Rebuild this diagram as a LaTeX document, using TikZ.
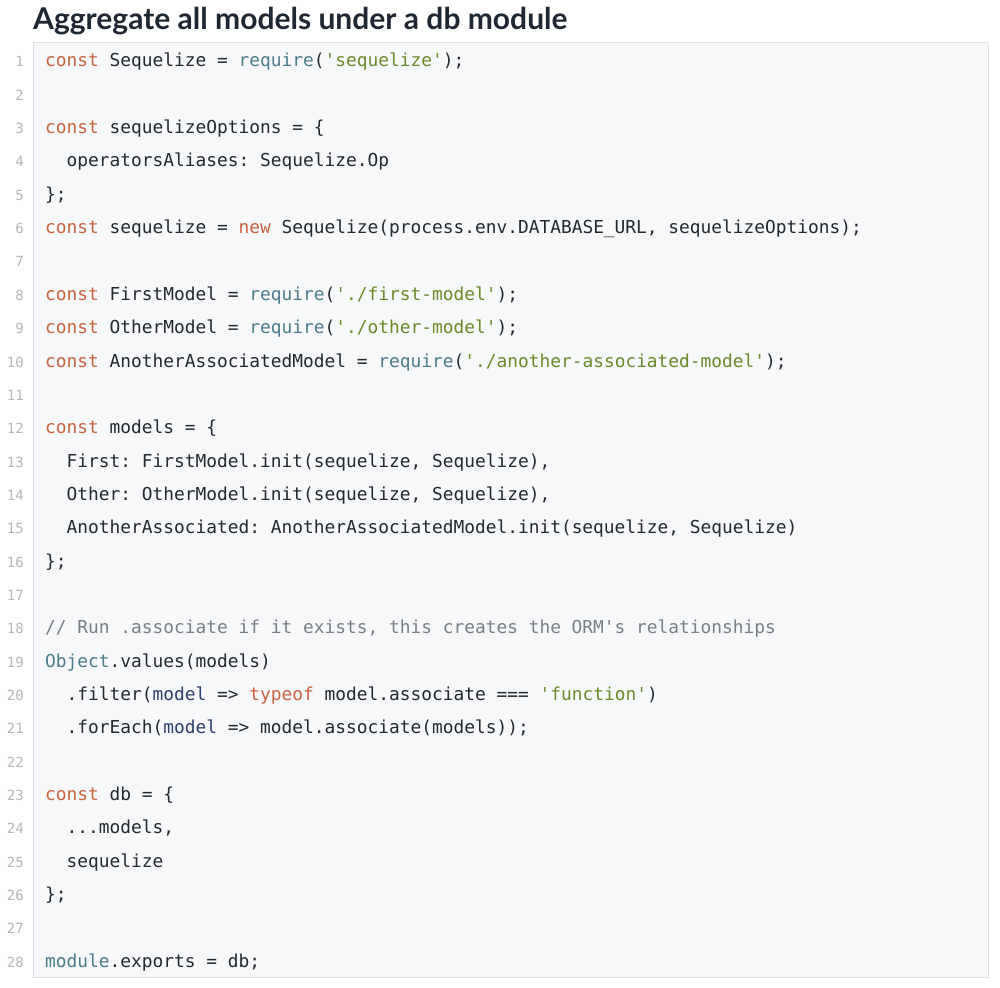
\documentclass[tikz,border=0pt]{standalone}
\usepackage{fontspec}
\setmainfont{Lato}
\setmonofont{DejaVu Sans Mono}
\definecolor{titlec}{HTML}{1F2733}
\definecolor{codec}{HTML}{24292E}
\definecolor{kwc}{HTML}{C9623E}
\definecolor{fnc}{HTML}{4B7C8A}
\definecolor{strc}{HTML}{6A8A2A}
\definecolor{pac}{HTML}{2D3F6B}
\definecolor{cmc}{HTML}{7A7F85}
\definecolor{numc}{HTML}{B4B7BC}
\definecolor{boxc}{HTML}{F7F8FA}
\definecolor{linec}{HTML}{DDE1E8}
\newcommand{\kw}[1]{\textcolor{kwc}{#1}}
\newcommand{\fn}[1]{\textcolor{fnc}{#1}}
\newcommand{\str}[1]{\textcolor{strc}{#1}}
\newcommand{\pa}[1]{\textcolor{pac}{#1}}
\newcommand{\cm}[1]{\textcolor{cmc}{#1}}
\tikzset{
  code/.style={anchor=base west,inner sep=0pt,text=codec,font=\ttfamily\fontsize{17.85}{20}\selectfont},
  num/.style={anchor=base east,inner sep=0pt,text=numc,font=\ttfamily\fontsize{14}{16}\selectfont},
}
\begin{document}
\begin{tikzpicture}[x=1pt,y=-1pt]
		\useasboundingbox[fill=white] (0,0) rectangle (1000,987);
		\node[anchor=base west,inner sep=0pt,text=titlec,font=\bfseries\fontsize{30}{33}\selectfont] (title) at (33,29.5) {Aggregate all models under a db module};
		\draw[linec,fill=boxc] (33,42) rectangle (988,977);

		\foreach \i in {1,...,28}
			\node[num] (n\i) at (24,{67+(\i-1)*33.333}) {\i};

		\node[code] (l1) at (45,67) {\kw{const} Sequelize = \fn{require}(\str{'sequelize'});};
		\node[code] (l3) at (45,133.67) {\kw{const} sequelizeOptions = \{};
		\node[code] (l4) at (66.5,167) {operatorsAliases: Sequelize.Op};
		\node[code] (l5) at (45,200.33) {\};};
		\node[code] (l6) at (45,233.67) {\kw{const} sequelize = \kw{new} Sequelize(process.env.DATABASE\_URL, sequelizeOptions);};
		\node[code] (l8) at (45,300.33) {\kw{const} FirstModel = \fn{require}(\str{'./first-model'});};
		\node[code] (l9) at (45,333.67) {\kw{const} OtherModel = \fn{require}(\str{'./other-model'});};
		\node[code] (l10) at (45,367) {\kw{const} AnotherAssociatedModel = \fn{require}(\str{'./another-associated-model'});};
		\node[code] (l12) at (45,433.67) {\kw{const} models = \{};
		\node[code] (l13) at (66.5,467) {First: FirstModel.init(sequelize, Sequelize),};
		\node[code] (l14) at (66.5,500.33) {Other: OtherModel.init(sequelize, Sequelize),};
		\node[code] (l15) at (66.5,533.67) {AnotherAssociated: AnotherAssociatedModel.init(sequelize, Sequelize)};
		\node[code] (l16) at (45,567) {\};};
		\node[code] (l18) at (45,633.67) {\cm{// Run .associate if it exists, this creates the ORM's relationships}};
		\node[code] (l19) at (45,667) {\fn{Object}.values(models)};
		\node[code] (l20) at (66.5,700.33) {.filter(\pa{model} => \kw{typeof} model.associate === \str{'function'})};
		\node[code] (l21) at (66.5,733.67) {.forEach(\pa{model} => model.associate(models));};
		\node[code] (l23) at (45,800.33) {\kw{const} db = \{};
		\node[code] (l24) at (66.5,833.67) {...models,};
		\node[code] (l25) at (66.5,867) {sequelize};
		\node[code] (l26) at (45,900.33) {\};};
		\node[code] (l28) at (45,967) {\fn{module}.exports = db;};
	\end{tikzpicture}
\end{document}
